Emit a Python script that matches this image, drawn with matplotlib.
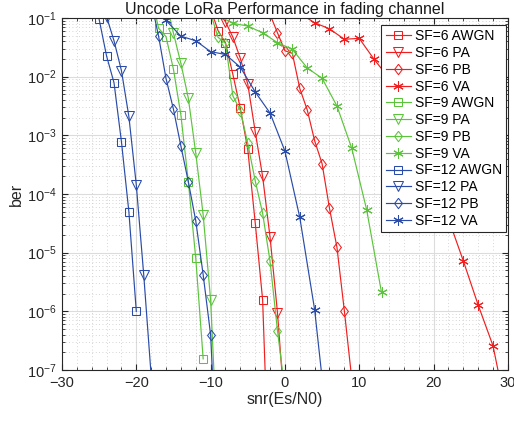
import matplotlib
matplotlib.use('Agg')
import matplotlib.pyplot as plt
import numpy as np
from matplotlib.ticker import LogLocator, MultipleLocator, NullFormatter

plt.rcParams['font.family'] = ['Liberation Sans', 'DejaVu Sans']
plt.rcParams['mathtext.fontset'] = 'custom'
plt.rcParams['mathtext.rm'] = 'Liberation Sans'
plt.rcParams['mathtext.it'] = 'Liberation Sans:italic'

# ber vs snr for each spreading factor / channel
snr_sf6_awgn = np.arange(-10, -1)
ber_sf6_awgn = [0.145, 0.061, 0.038, 0.0109, 2.88e-3, 5.8e-4, 3.26e-5, 1.58e-6, 4e-10]
snr_sf6_pa = np.arange(-9, 1)
ber_sf6_pa = [0.13, 0.0865, 0.047, 0.0205, 7.5e-3, 1.16e-3, 1.99e-4, 1.84e-5, 9.5e-7, 1.9e-8]
snr_sf6_pb = np.arange(-2, 10)
ber_sf6_pb = [0.115, 0.056, 0.0277, 0.025, 6.3e-3, 2.73e-3, 8.1e-4, 3.3e-4, 5.7e-5, 1.24e-5, 1.02e-6, 7e-8]
snr_sf6_va = np.arange(2, 31, 2)
ber_sf6_va = [0.12, 0.083, 0.0655, 0.0434, 0.045, 0.0198, 9.5e-3, 2.9e-3, 7.7e-4, 1.9e-4, 3.8e-5,
              7.3e-6, 1.29e-6, 2.6e-7, 1.5e-8]

snr_sf9_awgn = np.arange(-18, -10)
ber_sf9_awgn = [0.25, 0.067, 0.048, 0.0134, 2.23e-3, 1.63e-4, 8.1e-6, 1.55e-7]
snr_sf9_pa = np.arange(-16, -8)
ber_sf9_pa = [0.2, 0.055, 0.0169, 4.3e-3, 5.0e-4, 4.4e-5, 1.58e-6, 3e-9]
snr_sf9_pb = np.arange(-10, 1)
ber_sf9_pb = [0.12, 0.047, 0.037, 4.7e-3, 2.65e-3, 7.3e-4, 1.69e-4, 4.7e-5, 7.1e-6, 4.7e-7, 4.4e-8]
snr_sf9_va = np.arange(-9, 14, 2)
ber_sf9_va = [0.11, 0.081, 0.073, 0.056, 0.038, 0.0293, 0.0141, 9.4e-3, 3.17e-3, 6.0e-4, 5.4e-5, 2.1e-6]

snr_sf12_awgn = np.arange(-25, -19)
ber_sf12_awgn = [0.095, 0.0225, 0.0079, 7.8e-4, 5.0e-5, 1.0e-6]
snr_sf12_pa = np.arange(-24, -17)
ber_sf12_pa = [0.105, 0.041, 0.0127, 0.0021, 1.43e-4, 4.2e-6, 8e-8]
snr_sf12_pb = np.arange(-18, -8)
ber_sf12_pb = [0.19, 0.049, 0.0093, 2.78e-3, 6.6e-4, 1.62e-4, 3.5e-5, 4.2e-6, 4e-7, 1e-9]
snr_sf12_va = np.arange(-18, 7, 2)
ber_sf12_va = [0.2, 0.091, 0.049, 0.041, 0.0267, 0.0239, 0.0145, 5.5e-3, 2.4e-3, 5.4e-4, 4.0e-5,
               1.07e-6, 5e-9]

red = '#f01e1e'
green = '#5cc43c'
blue = '#2a4ca8'
star = (6, 2, 0)
diamond = [(0, 1), (0.75, 0), (0, -1), (-0.75, 0), (0, 1)]

curves = [
    (snr_sf6_awgn, ber_sf6_awgn, red, 's', 'SF=6 AWGN'),
    (snr_sf6_pa, ber_sf6_pa, red, 'v', 'SF=6 PA'),
    (snr_sf6_pb, ber_sf6_pb, red, 'pb', 'SF=6 PB'),
    (snr_sf6_va, ber_sf6_va, red, 'va', 'SF=6 VA'),
    (snr_sf9_awgn, ber_sf9_awgn, green, 's', 'SF=9 AWGN'),
    (snr_sf9_pa, ber_sf9_pa, green, 'v', 'SF=9 PA'),
    (snr_sf9_pb, ber_sf9_pb, green, 'pb', 'SF=9 PB'),
    (snr_sf9_va, ber_sf9_va, green, 'va', 'SF=9 VA'),
    (snr_sf12_awgn, ber_sf12_awgn, blue, 's', 'SF=12 AWGN'),
    (snr_sf12_pa, ber_sf12_pa, blue, 'v', 'SF=12 PA'),
    (snr_sf12_pb, ber_sf12_pb, blue, 'pb', 'SF=12 PB'),
    (snr_sf12_va, ber_sf12_va, blue, 'va', 'SF=12 VA'),
]
# marker shape and size per channel type
markers = {'s': ('s', 5.5), 'v': ('v', 7), 'pb': (diamond, 7.5), 'va': (star, 7.5)}

fig = plt.figure(figsize=(5.14, 4.21), dpi=100)
ax = fig.add_axes([0.1206, 0.1211, 0.8674, 0.8361])

for snr, ber, col, kind, name in curves:
    mk, ms = markers[kind]
    ax.semilogy(snr, ber, color=col, marker=mk, markersize=ms,
                markerfacecolor='none', markeredgecolor=col, markeredgewidth=0.75,
                linewidth=0.85, label=name)

ax.set_xlim(-30, 30)
ax.set_ylim(1e-7, 1e-1)
ax.xaxis.set_major_locator(MultipleLocator(10))
ax.xaxis.set_minor_locator(MultipleLocator(2))
ax.yaxis.set_major_locator(LogLocator(base=10, numticks=10))
ax.yaxis.set_minor_locator(LogLocator(base=10, subs=np.arange(2, 10), numticks=20))
ax.yaxis.set_minor_formatter(NullFormatter())

ax.grid(True, which='major', color='#dcdcdc', linewidth=0.8, linestyle='-')
ax.grid(True, which='minor', color='#c8c8c8', linewidth=0.6, linestyle=(0, (1, 3)))
ax.set_axisbelow(True)

ax.tick_params(which='both', direction='in', top=True, right=True,
               labelsize=10.5, colors='#262626')
ax.tick_params(which='major', length=4, pad=4)
ax.tick_params(which='minor', length=2)
for sp in ax.spines.values():
    sp.set_color('#262626')
    sp.set_linewidth(0.8)

ax.set_title('Uncode LoRa Performance in fading channel', fontsize=11.5, color='#1a1a1a', pad=3)
ax.set_xlabel('snr(Es/N0)', fontsize=11.5, color='#262626', labelpad=2)
ax.set_ylabel('ber', fontsize=11.5, color='#262626', labelpad=2)

leg = ax.legend(loc='upper right', bbox_to_anchor=(0.996, 0.98), borderaxespad=0,
                fontsize=10, frameon=True, fancybox=False, handlelength=1.8,
                handletextpad=0.3, borderpad=0.3, labelspacing=0.2)
leg.get_frame().set_edgecolor('#262626')
leg.get_frame().set_linewidth(0.8)
leg.get_frame().set_alpha(1.0)

fig.savefig('out.png', dpi=100)
